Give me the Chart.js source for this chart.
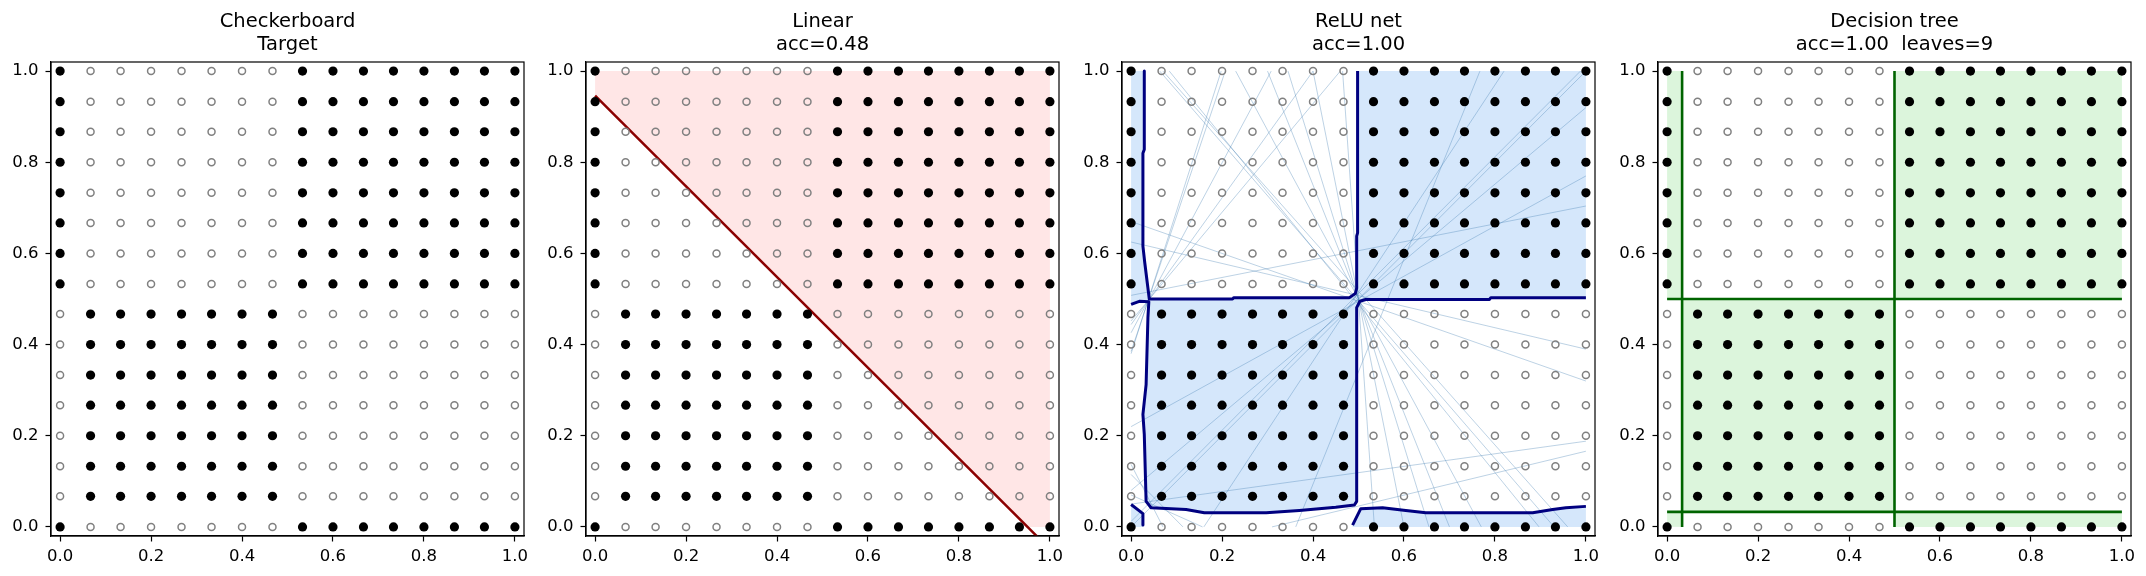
<!DOCTYPE html>
<html>
<head>
<meta charset="utf-8">
<title>Checkerboard classifiers</title>
<script src="https://cdn.jsdelivr.net/npm/chart.js@4.4.1/dist/chart.umd.min.js"></script>
<style>
  html, body { margin: 0; padding: 0; background: #fff; overflow: hidden; }
  #fig { position: relative; width: 2146px; height: 576px; }
  #fig canvas { position: absolute; top: 0; }
</style>
</head>
<body>
<div id="fig">
  <canvas id="panelTarget" width="536" height="576" style="left:1px"></canvas>
  <canvas id="panelLinear" width="536" height="576" style="left:536px"></canvas>
  <canvas id="panelRelu" width="536" height="576" style="left:1072px"></canvas>
  <canvas id="panelTree" width="536" height="576" style="left:1608px"></canvas>
</div>
<script>
// ---- data ----
const gridCoords = [0, 0.067, 0.133, 0.2, 0.267, 0.333, 0.4, 0.467, 0.533, 0.6, 0.667, 0.733, 0.8, 0.867, 0.933, 1];

// target class of each grid point, top row (y = 1) first, 1 = filled dot
const targetRows = [
  '1000000011111111',
  '1000000011111111',
  '1000000011111111',
  '1000000011111111',
  '1000000011111111',
  '1000000011111111',
  '1000000011111111',
  '1000000011111111',
  '0111111100000000',
  '0111111100000000',
  '0111111100000000',
  '0111111100000000',
  '0111111100000000',
  '0111111100000000',
  '0111111100000000',
  '1000000011111111'
];

const tickValues = [0, 0.2, 0.4, 0.6, 0.8, 1.0];
const tickLabels = ['0.0', '0.2', '0.4', '0.6', '0.8', '1.0'];

const titles = {
  target: ['Checkerboard', 'Target'],
  linear: ['Linear', 'acc=0.48'],
  relu: ['ReLU net', 'acc=1.00'],
  tree: ['Decision tree', 'acc=1.00  leaves=9']
};

// linear model: boundary line and the region predicted as class 1
const linearBoundary = [[0, 0.946], [1, -0.049]];
const linearRegion = [[0, 0.946], [0, 1], [1, 1], [1, 0], [0.951, 0]];

// ReLU net: pieces of the 0.5 contour
const reluContourTop = [[0.029, 1], [0.029, 0.828], [0.026, 0.82], [0.026, 0.616], [0.03, 0.58], [0.04, 0.5],
  [0.223, 0.5], [0.226, 0.503], [0.48, 0.503], [0.493, 0.512], [0.496, 0.524], [0.496, 0.638], [0.498, 0.645], [0.498, 1]];
const reluContourMid = [[0, 0.488], [0.018, 0.495], [0.039, 0.494], [0.037, 0.459], [0.033, 0.312], [0.026, 0.247],
  [0.029, 0.203], [0.033, 0.056], [0.044, 0.042], [0.121, 0.038], [0.161, 0.031], [0.297, 0.031], [0.37, 0.036],
  [0.45, 0.043], [0.491, 0.048], [0.496, 0.056], [0.496, 0.481], [0.503, 0.495], [0.516, 0.499], [0.788, 0.499],
  [0.791, 0.503], [1, 0.503]];
const reluContourLow = [[0.487, 0.004], [0.505, 0.04], [0.553, 0.042], [0.604, 0.036], [0.648, 0.031],
  [0.883, 0.031], [0.927, 0.038], [0.956, 0.042], [1, 0.045]];
const reluContourCorner = [[0, 0.049], [0.026, 0.029], [0.026, 0.004]];

// ReLU net: hidden unit hyperplanes, clipped to the unit square [x1, y1, x2, y2]
const reluUnitLines = [
  [0, 0, 1, 1],
  [0, 0.012, 0.988, 1],
  [0.063, 1, 0.93, 0],
  [0.084, 1, 0.897, 0],
  [0.07, 1, 0.96, 0],
  [0.23, 1, 0.77, 0],
  [0.30, 1, 0.70, 0],
  [0.345, 1, 0.655, 0],
  [0.40, 1, 0.60, 0],
  [0.465, 1, 0.535, 0],
  [0, 0.67, 1, 0.32],
  [0, 0.625, 1, 0.39],
  [0, 0.22, 1, 0.77],
  [0, 0.08, 1, 0.92],
  [0.362, 0, 0.767, 1],
  [0.16, 0, 0.82, 1],
  [0, 0.38, 0.198, 1],
  [0, 0.385, 0.207, 1],
  [0, 0.426, 0.308, 1],
  [0, 0.444, 0.40, 1],
  [0, 0.452, 0.46, 1],
  [0, 0.508, 1, 0.704],
  [0, 0.05, 1, 0.188],
  [0.31, 0, 1, 0.166],
  [0, 0.137, 0.07, 0],
  [0, 0.115, 0.114, 0],
  [0, 0.07, 0.157, 0]
];

// decision tree: split lines and leaves predicted as class 1 [x0, x1, y0, y1]
const treeSplits = [[0.033, 0, 0.033, 1], [0.5, 0, 0.5, 1], [0, 0.5, 1, 0.5], [0, 0.033, 1, 0.033]];
const treeRegions = [[0.5, 1, 0.5, 1], [0.033, 0.5, 0.033, 0.5], [0, 0.033, 0.5, 1], [0.5, 1, 0, 0.033], [0, 0.033, 0, 0.033]];

// ---- helpers ----
Chart.defaults.font.family = "'DejaVu Sans', sans-serif";
Chart.defaults.color = '#000';

const toPts = pairs => pairs.map(([x, y]) => ({ x, y }));

function gridPoints(cls) {
  const pts = [];
  targetRows.forEach((row, r) => {
    for (let c = 0; c < row.length; c++) {
      if (row[c] === cls) pts.push({ x: gridCoords[c], y: gridCoords[gridCoords.length - 1 - r] });
    }
  });
  return pts;
}

function pointSets() {
  return [
    { data: gridPoints('1'), showLine: false, pointRadius: 4.6, pointBackgroundColor: '#000',
      pointBorderWidth: 0, order: 0 },
    { data: gridPoints('0'), showLine: false, pointRadius: 3.5, pointBackgroundColor: 'rgba(0,0,0,0)',
      pointBorderColor: '#808080', pointBorderWidth: 1.5, order: 0 }
  ];
}

function region(pairs, color) {
  return { data: toPts(pairs), fill: 'shape', backgroundColor: color, borderColor: 'rgba(0,0,0,0)',
    borderWidth: 0, pointRadius: 0, order: 3 };
}

function path(pairs, color, width, order) {
  return { data: toPts(pairs), fill: false, borderColor: color, borderWidth: width, pointRadius: 0,
    borderCapStyle: 'butt', borderJoinStyle: 'round', order };
}

function axisOptions(isX) {
  return {
    type: 'linear', min: -0.02, max: 1.02,
    afterBuildTicks: s => { s.ticks = tickValues.map(v => ({ value: v })); },
    afterFit: s => { if (isX) s.height = 40; else s.width = 50; },
    ticks: { callback: (v, i) => tickLabels[i], color: '#000', font: { size: 16.5 },
      padding: isX ? 5 : 7, autoSkip: false, maxRotation: 0 },
    grid: { drawOnChartArea: false, drawTicks: true, tickLength: 5.5, tickColor: '#000', tickWidth: 1.2 },
    border: { display: true, color: '#000', width: 1.2 }
  };
}

const frame = {
  id: 'frame',
  afterDatasetsDraw(chart) {
    const { ctx, chartArea: a } = chart;
    ctx.save();
    ctx.strokeStyle = '#000';
    ctx.lineWidth = 1.2;
    ctx.strokeRect(a.left, a.top, a.right - a.left, a.bottom - a.top);
    ctx.restore();
  }
};

function makePanel(id, title, datasets) {
  new Chart(document.getElementById(id), {
    type: 'line',
    data: { datasets },
    options: {
      responsive: false,
      animation: false,
      events: [],
      layout: { padding: { right: 13 } },
      plugins: {
        legend: { display: false },
        tooltip: { enabled: false },
        title: { display: true, fullSize: false, text: title, color: '#000',
          font: { size: 19.5, weight: 'normal', lineHeight: 1.2 }, padding: { top: 10, bottom: 5.2 } }
      },
      scales: { x: axisOptions(true), y: axisOptions(false) }
    },
    plugins: [frame]
  });
}

// ---- panels ----
makePanel('panelTarget', titles.target, pointSets());

makePanel('panelLinear', titles.linear, [
  ...pointSets(),
  path(linearBoundary, '#8b0000', 2.5, 1),
  region(linearRegion, '#ffe6e6')
]);

const reluBlue = '#d5e7fb';
const reluMainRegion = [[0, 1], ...reluContourTop, [1, 1], ...reluContourMid.slice().reverse()];
const reluLowRegion = [...reluContourLow, [1, 0], [0.487, 0]];
const reluCornerRegion = [[0, 0], ...reluContourCorner, [0.026, 0]];
makePanel('panelRelu', titles.relu, [
  ...pointSets(),
  path(reluContourTop, '#000080', 3, 1),
  path(reluContourMid, '#000080', 3, 1),
  path(reluContourLow, '#000080', 3, 1),
  path(reluContourCorner, '#000080', 3, 1),
  ...reluUnitLines.map(([x1, y1, x2, y2]) => path([[x1, y1], [x2, y2]], 'rgba(70,130,180,0.4)', 0.9, 2)),
  region(reluMainRegion, reluBlue),
  region(reluLowRegion, reluBlue),
  region(reluCornerRegion, reluBlue)
]);

makePanel('panelTree', titles.tree, [
  ...pointSets(),
  ...treeSplits.map(([x1, y1, x2, y2]) => path([[x1, y1], [x2, y2]], '#006400', 2.6, 1)),
  ...treeRegions.map(([x0, x1, y0, y1]) => region([[x0, y0], [x1, y0], [x1, y1], [x0, y1]], '#dcf5dc'))
]);
</script>
</body>
</html>
